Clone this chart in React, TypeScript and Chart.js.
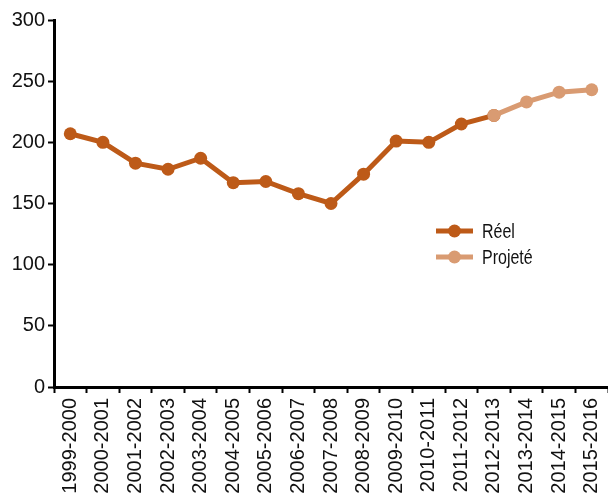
import React, { useEffect, useRef } from "react";
import { Chart, registerables } from "chart.js";

Chart.register(...registerables);

const seasons = [
  "1999-2000", "2000-2001", "2001-2002", "2002-2003", "2003-2004", "2004-2005",
  "2005-2006", "2006-2007", "2007-2008", "2008-2009", "2009-2010", "2010-2011",
  "2011-2012", "2012-2013", "2013-2014", "2014-2015", "2015-2016",
];

// Actual values, up to 2012-2013
const reel = [207, 200, 183, 178, 187, 167, 168, 158, 150, 174, 201, 200, 215, 222, null, null, null];
// Projected values, from 2012-2013
const projete = [null, null, null, null, null, null, null, null, null, null, null, null, null, 222, 233, 241, 243];

const yTicks = [0, 50, 100, 150, 200, 250, 300];

const DARK = "#BD5A18";
const LIGHT = "#D99B72";
const AXIS_FONT = "'Liberation Sans', Arial, sans-serif";

// Legend drawn as a line segment with a centered marker, like the series themselves
const lineLegend = {
  id: "lineLegend",
  afterDraw(chart: any, _args: any, opts: any) {
    const ctx = chart.ctx;
    ctx.save();
    chart.data.datasets.forEach((ds: any, i: number) => {
      const y = opts.y + i * opts.rowGap;
      ctx.strokeStyle = ds.borderColor;
      ctx.lineWidth = 5;
      ctx.beginPath();
      ctx.moveTo(opts.x, y);
      ctx.lineTo(opts.x + opts.lineLen, y);
      ctx.stroke();
      ctx.fillStyle = ds.pointBackgroundColor;
      ctx.beginPath();
      ctx.arc(opts.x + opts.lineLen / 2, y, 6.5, 0, Math.PI * 2);
      ctx.fill();
      // condensed lettering
      ctx.save();
      ctx.translate(opts.x + opts.lineLen + 9, y + 1);
      ctx.scale(0.78, 1);
      ctx.fillStyle = "#111";
      ctx.font = `20.5px ${AXIS_FONT}`;
      ctx.textBaseline = "middle";
      ctx.textAlign = "left";
      ctx.fillText(ds.label, 0, 0);
      ctx.restore();
    });
    ctx.restore();
  },
};

export default function App() {
  const ref = useRef<HTMLCanvasElement | null>(null);

  useEffect(() => {
    if (!ref.current) return;
    const chart = new Chart(ref.current, {
      type: "line",
      data: {
        labels: seasons,
        datasets: [
          {
            label: "Réel",
            data: reel,
            borderColor: DARK,
            backgroundColor: DARK,
            pointBackgroundColor: DARK,
            pointBorderColor: DARK,
            borderWidth: 5,
            pointRadius: 6.5,
            pointBorderWidth: 0,
            tension: 0,
            spanGaps: false,
            order: 1,
          },
          {
            label: "Projeté",
            data: projete,
            borderColor: LIGHT,
            backgroundColor: LIGHT,
            pointBackgroundColor: LIGHT,
            pointBorderColor: LIGHT,
            borderWidth: 5,
            pointRadius: 6.5,
            pointBorderWidth: 0,
            tension: 0,
            spanGaps: false,
            order: 0,
          },
        ],
      },
      options: {
        responsive: false,
        animation: false,
        layout: { autoPadding: false, padding: { top: 20, right: -2, left: 0, bottom: 0 } },
        plugins: {
          legend: { display: false },
          tooltip: { enabled: false },
          lineLegend: { x: 436, y: 231, rowGap: 26, lineLen: 37 },
        } as any,
        scales: {
          x: {
            type: "category",
            offset: true,
            grid: {
              offset: true,
              drawOnChartArea: false,
              drawTicks: true,
              tickLength: 6,
              tickWidth: 2,
              tickColor: "#000",
            },
            border: { display: true, color: "#000", width: 3 },
            ticks: {
              color: "#111",
              font: { family: AXIS_FONT, size: 20 },
              minRotation: 90,
              maxRotation: 90,
              autoSkip: false,
              padding: 5,
            },
            afterFit: (s: any) => {
              s.height = 115;
              s.paddingRight = -2;
              s.paddingLeft = 0;
            },
          },
          y: {
            min: 0,
            max: 300,
            afterBuildTicks: (s: any) => {
              s.ticks = yTicks.map((v) => ({ value: v }));
            },
            grid: {
              drawOnChartArea: false,
              drawTicks: true,
              tickLength: 6,
              tickWidth: 2,
              tickColor: "#000",
            },
            border: { display: true, color: "#000", width: 3 },
            ticks: {
              color: "#111",
              font: { family: AXIS_FONT, size: 20 },
              padding: 3,
            },
            afterFit: (s: any) => {
              s.width = 54;
              s.paddingRight = -2;
            },
          },
        },
      },
      plugins: [lineLegend],
    });
    return () => chart.destroy();
  }, []);

  return (
    <div style={{ position: "fixed", left: 0, top: 0, width: 608, height: 502, background: "#fff" }}>
      <canvas ref={ref} width={608} height={502} />
    </div>
  );
}
